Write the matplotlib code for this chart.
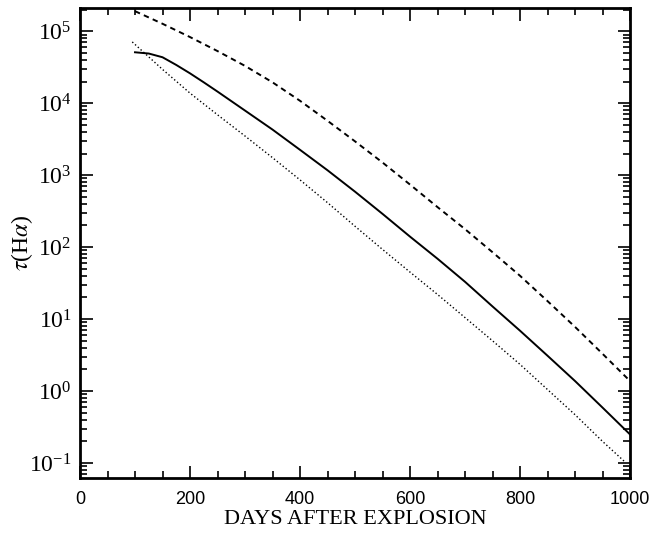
import matplotlib
matplotlib.use("Agg")

import numpy as np
import matplotlib.pyplot as plt
from matplotlib.ticker import MultipleLocator, FixedLocator, NullFormatter

plt.rcParams["mathtext.fontset"] = "stix"
plt.rcParams["font.family"] = ["Liberation Serif", "DejaVu Serif"]

# ── Data ─────────────────────────────────────────────────────────────────────
# dashed model: tau(H-alpha) vs days
days_dashed = [100, 150, 200, 250, 300, 350, 400, 450, 500, 550,
               600, 650, 700, 750, 800, 850, 900, 950, 1000]
tau_dashed = [1.9e5, 1.27e5, 8.3e4, 5.3e4, 3.3e4, 1.95e4, 1.08e4, 5.7e3, 2.95e3,
              1.5e3, 7.4e2, 3.6e2, 1.78e2, 85, 40, 17.8, 7.8, 3.3, 1.38]

# solid model
days_solid = [100, 125, 150, 175, 200, 225, 250, 300, 350, 400, 450, 500,
              550, 600, 650, 700, 750, 800, 850, 900, 950, 1000]
tau_solid = [5.1e4, 4.9e4, 4.35e4, 3.4e4, 2.6e4, 1.95e4, 1.45e4, 7.9e3, 4.3e3,
             2.25e3, 1.17e3, 5.9e2, 2.9e2, 1.4e2, 69, 33, 15, 6.9, 3.1, 1.38,
             0.59, 0.25]

# dotted model
days_dotted = [95, 150, 200, 250, 300, 350, 400, 450, 500, 550,
               600, 650, 700, 750, 800, 850, 900, 950, 990]
tau_dotted = [7.1e4, 2.95e4, 1.38e4, 6.9e3, 3.5e3, 1.75e3, 8.6e2, 4.15e2, 1.95e2,
              93, 45, 22, 10.5, 5.0, 2.35, 1.05, 0.47, 0.20, 0.105]

x_ticks = [0, 200, 400, 600, 800, 1000]
y_ticks = [0.1, 1, 10, 100, 1e3, 1e4, 1e5]

# ── Plot ─────────────────────────────────────────────────────────────────────
fig = plt.figure(figsize=(6.52, 5.36), dpi=100)
ax = fig.add_axes([0.1227, 0.1082, 0.8436, 0.8768])

ax.plot(days_dashed, tau_dashed, color="black", lw=1.4, ls=(0, (2.8, 2.2)))
ax.plot(days_solid, tau_solid, color="black", lw=1.4, ls="-")
ax.plot(days_dotted, tau_dotted, color="black", lw=1.0, ls=(0, (1, 1.7)))

ax.set_yscale("log")
ax.set_xlim(0, 1000)
ax.set_ylim(0.062, 2.1e5)

ax.set_xticks(x_ticks, [str(v) for v in x_ticks],
              fontfamily=["Liberation Sans", "DejaVu Sans"], fontsize=13)
ax.xaxis.set_minor_locator(MultipleLocator(50))
ax.yaxis.set_major_locator(FixedLocator(y_ticks))
minor_y = [m * 10.0 ** e for e in range(-2, 6) for m in range(2, 10)
           if 0.062 < m * 10.0 ** e < 2.1e5]
ax.yaxis.set_minor_locator(FixedLocator(minor_y))
ax.yaxis.set_minor_formatter(NullFormatter())

ax.tick_params(which="both", direction="in", top=True, right=True, width=1.2)
ax.tick_params(which="major", length=9)
ax.tick_params(which="minor", length=5)
ax.tick_params(axis="x", which="major", pad=9)
ax.tick_params(axis="y", which="major", pad=6, labelsize=17)

for sp in ax.spines.values():
    sp.set_linewidth(2.0)

ax.set_xlabel("DAYS AFTER EXPLOSION", fontsize=16, labelpad=2)
ax.set_ylabel(r"$\tau$(H$\alpha$)", fontsize=17, labelpad=-4)

fig.savefig("out.png", dpi=100)
